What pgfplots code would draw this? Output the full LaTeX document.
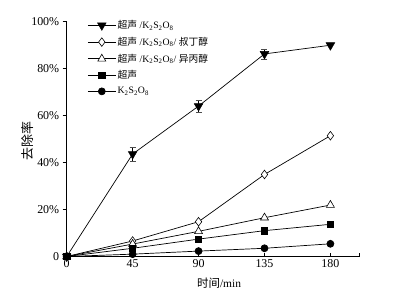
\documentclass[border=0pt]{standalone}
\usepackage{fontspec}
\setmainfont{Liberation Serif}
\newfontfamily\cjk{Noto Sans CJK SC}
\usepackage{pgfplots}
\pgfplotsset{compat=1.18}
\usepackage{pgfplotstable}
\pgfplotstableread{
x y e
0 0 0
45 43.6 2.9
90 64 2.6
135 86.2 2.2
180 89.9 0
}\tabA
\pgfplotstableread{
x y
0 0
45 6.6
90 14.8
135 34.9
180 51.4
}\tabB
\pgfplotstableread{
x y
0 0
45 5.3
90 10.7
135 16.5
180 21.9
}\tabC
\pgfplotstableread{
x y
0 0
45 3.5
90 7.4
135 11.0
180 13.7
}\tabD
\pgfplotstableread{
x y
0 0
45 1.0
90 2.3
135 3.5
180 5.4
}\tabE
\newcommand{\kso}{K\textsubscript{2}S\textsubscript{2}O\textsubscript{8}}
\begin{document}
\begin{tikzpicture}
\path[use as bounding box] (-66.7bp,-37.5bp) rectangle (327.3bp,256.5bp);
\begin{axis}[
  at={(0,0)}, anchor=south west,
  scale only axis, width=293bp, height=235bp,
  xmin=0, xmax=200, ymin=0, ymax=100,
  axis lines=left, axis line style={-, line width=0.9bp},
  xtick={0,45,90,135,180,200}, xticklabels={0,45,90,135,180,},
  ytick={0,20,40,60,80,100}, yticklabels={0,20\%,40\%,60\%,80\%,100\%},
  xtick align=inside, ytick align=outside,
  major tick length=4bp,
  tick style={black, line width=0.9bp},
  tick label style={font=\fontsize{12}{14}\selectfont},
  xlabel={{\cjk 时间}/min},
  ylabel={\cjk 去除率},
  xlabel style={font=\fontsize{11.5}{13}\selectfont, at={(axis description cs:0.52,-0.115)}, anchor=center},
  ylabel style={font=\fontsize{13}{15}\selectfont, at={(axis description cs:-0.132,0.49)}, anchor=center},
  legend cell align=left,
  legend style={draw=none, fill=none, at={(rel axis cs:0.06,1.02)}, anchor=north west,
    font=\fontsize{9.8}{12}\selectfont, row sep=4bp, nodes={inner sep=1.5bp}},
  legend image code/.code={\draw[mark repeat=2,mark phase=2] plot coordinates {(0bp,0bp)(14bp,0bp)(28bp,0bp)};},
  every axis plot/.append style={black, line width=0.7bp},
]
\addplot[mark=triangle*, mark size=5bp, mark options={rotate=180, fill=black, line width=0.5bp},
  error bars/.cd, y dir=both, y explicit, error mark options={rotate=90, mark size=3bp, line width=0.5bp, black!70}]
  table[x=x, y=y, y error=e] {\tabA};
\addlegendentry{{\cjk 超声} /\kso}
\addplot[mark=diamond*, mark size=4.3bp, mark options={fill=white, line width=0.6bp}] table[x=x,y=y] {\tabB};
\addlegendentry{{\cjk 超声} /\kso/ {\cjk 叔丁醇}}
\addplot[mark=triangle*, mark size=4.6bp, mark options={fill=white, line width=0.6bp}] table[x=x,y=y] {\tabC};
\addlegendentry{{\cjk 超声} /\kso/ {\cjk 异丙醇}}
\addplot[mark=square*, mark size=3.2bp, mark options={fill=black}] table[x=x,y=y] {\tabD};
\addlegendentry{\cjk 超声}
\addplot[mark=*, mark size=3.5bp, mark options={fill=black}] table[x=x,y=y] {\tabE};
\addlegendentry{\kso}
\end{axis}
\end{tikzpicture}
\end{document}
